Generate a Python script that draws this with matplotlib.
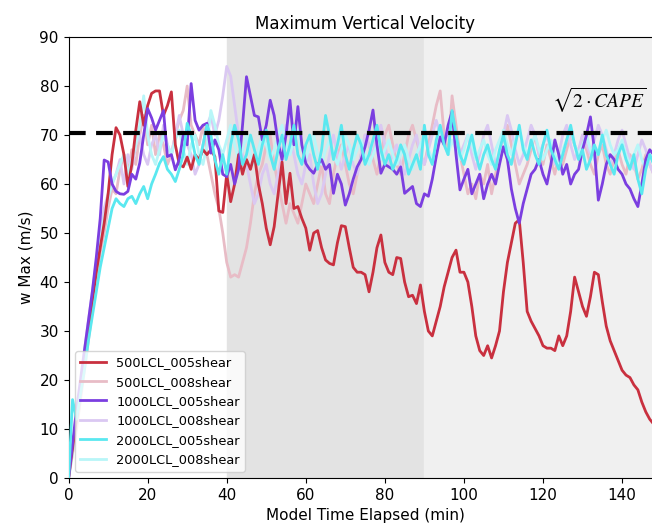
import numpy as np
import matplotlib
matplotlib.use("Agg")
import matplotlib.pyplot as plt

# model time (min), one output per minute
time_min = np.arange(0, 149)

w_500_005 = [
    0, 6, 12, 18, 24, 30, 36, 42, 47, 52,
    58, 66, 71.5, 70, 66, 59.5, 64, 71, 76.8, 72,
    76, 78.5, 79, 79, 74, 76, 78.8, 68, 64, 63.5,
    65.5, 63, 66, 65, 67, 66, 67, 65.6, 54.5, 54.2,
    62, 56.4, 60, 66, 62, 65, 63, 66, 60, 56,
    51, 47.6, 51.3, 58, 64.5, 56, 62.2, 55, 55.4, 53,
    51, 46.5, 50, 50.5, 47, 44.5, 43.8, 43.5, 48, 51.5,
    51.3, 47, 43, 42, 42, 41.5, 38, 42, 47, 49.6,
    44, 42, 41.5, 45, 44.8, 40, 37, 37.3, 35.6, 39.4,
    34, 30, 29, 32, 35, 39, 42, 45, 46.5, 42,
    42, 40, 35, 29, 26, 25, 27, 24.5, 27, 30,
    38, 44, 48, 52, 52.7, 44, 34, 32, 30.5, 29,
    27, 26.5, 26.5, 26, 29, 27, 29, 34, 41, 38,
    35, 33, 37, 42, 41.5, 36, 31, 28, 26, 24,
    22, 21, 20.5, 19, 18, 15.5, 13.5, 12, 11,
]
w_500_008 = [
    0, 5, 10, 16, 22, 28, 34, 40, 46, 50,
    55, 59, 58, 63, 66, 62, 67, 64, 70, 74,
    68, 72, 66, 70, 68, 64, 66, 70, 73, 75,
    80, 72, 70, 68, 72, 66, 62, 58, 55, 50,
    44, 41, 41.5, 41, 44, 47, 52, 58, 62, 64,
    68, 70, 64, 60, 56, 52, 56, 54, 52, 56,
    60, 58, 56, 60, 64, 58, 56, 62, 66, 68,
    64, 60, 58, 62, 66, 70, 68, 65, 62, 66,
    70, 72, 68, 64, 62, 66, 70, 72, 69, 66,
    64, 68, 72, 76, 79, 70, 66, 78, 72, 66,
    62, 58, 60, 57, 62, 60, 64, 58, 62, 66,
    70, 72, 68, 64, 60, 62, 64, 67, 70, 66,
    64, 68, 65, 62, 66, 64, 67, 70, 68, 66,
    70, 67, 64, 62, 66, 68, 64, 62, 65, 67,
    64, 62, 66, 64, 61, 63, 66, 64, 62,
]
w_1000_005 = [
    0, 7, 14, 20, 26, 32, 38, 45, 53, 64.9,
    64.5, 60, 58.5, 58, 57.9, 58.5, 62, 61, 64.3, 70,
    75.4, 73.5, 71, 73, 75, 65.6, 66, 62.9, 65, 70,
    68, 80.5, 73, 71, 72, 72.4, 66.3, 69, 67, 62,
    61.5, 64, 60, 63, 72, 81.9, 78, 74, 73.7, 69,
    72, 77.1, 74, 68.3, 65, 70, 77.1, 68, 75.8, 68,
    64.2, 63, 62.2, 64, 65, 63, 64, 58.1, 62, 60,
    55.7, 58, 61, 63.5, 65, 67.6, 71, 75.1, 68, 62.2,
    64, 63.5, 63, 62, 63.5, 58.1, 58.8, 59.5, 56, 55.4,
    58, 57.5, 61, 65.6, 69.6, 68, 72, 74.8, 66, 58.8,
    61, 63, 58, 60, 62, 57, 60, 62, 60, 64,
    67.6, 65, 59, 55, 52, 56, 59, 62, 63, 65,
    62, 60, 64, 69, 66, 62, 64, 60, 62, 63,
    67, 70, 73.7, 67, 56.7, 60, 64, 66, 65, 63,
    62, 60, 59, 57, 55.4, 60, 65, 67, 66,
]
w_1000_008 = [
    0, 6, 12, 19, 26, 32, 38, 44, 50, 55,
    58, 60, 62, 65, 60, 66, 63, 68, 70, 66,
    64, 68, 70, 66, 72, 68, 66, 70, 74, 70,
    68, 66, 62, 64, 68, 72, 74, 70, 73, 78,
    84, 82, 76, 70, 66, 64, 60, 56, 58, 62,
    64, 60, 58, 62, 66, 72, 70, 66, 62, 60,
    64, 66, 60, 56, 58, 62, 66, 70, 66, 63,
    66, 68, 64, 62, 66, 70, 68, 66, 70, 72,
    68, 64, 66, 68, 64, 62, 65, 68, 70, 66,
    64, 67, 70, 73, 70, 68, 71, 73, 70, 66,
    68, 70, 66, 63, 66, 70, 72, 68, 64, 66,
    70, 74, 71, 67, 64, 66, 69, 72, 70, 66,
    68, 70, 67, 64, 66, 70, 72, 68, 65, 67,
    70, 68, 66, 69, 72, 70, 67, 64, 66, 69,
    71, 68, 65, 63, 66, 69, 67, 64, 62,
]
w_2000_005 = [
    0, 16, 12, 17, 22, 28, 33, 38, 43, 47,
    51, 55, 57, 56, 55.4, 57, 57.5, 56, 58, 59.5,
    57, 60, 62, 64.2, 65.6, 63, 62, 60.5, 63, 66,
    72.4, 70, 66, 64, 68, 72, 70, 65, 62, 66,
    62, 68, 72, 69, 64, 66, 70, 67, 64, 68,
    71, 66, 63, 67, 70, 65, 68, 72, 66, 64,
    68, 70, 66, 63, 67, 74, 70, 65, 68, 72,
    66, 63, 67, 70, 68, 64, 66, 69, 72, 67,
    64, 66, 63, 65, 68, 66, 62, 64, 66, 63,
    72, 66, 64, 69, 72, 68, 66, 75, 70, 66,
    64, 67, 70, 66, 63, 66, 68, 65, 63, 67,
    70, 66, 64, 68, 72, 67, 65, 69, 66, 64,
    68, 71, 67, 65, 63, 66, 69, 72, 68, 65,
    67, 63, 65, 68, 66, 70, 66, 64, 62, 66,
    68, 65, 63, 66, 61, 58, 63, 66, 64,
]
w_2000_008 = [
    0, 5, 12, 18, 24, 30, 36, 42, 48, 53,
    57, 60, 62, 64, 66, 62, 65, 68, 72, 78,
    70, 66, 64, 67, 70, 68, 66, 69, 71, 67,
    64, 68, 70, 66, 64, 68, 75, 72, 68, 66,
    69, 72, 68, 65, 67, 70, 66, 64, 67, 70,
    68, 65, 67, 70, 72, 68, 66, 69, 71, 67,
    65, 68, 70, 66, 64, 67, 69, 66, 64, 67,
    70, 68, 65, 67, 69, 66, 64, 66, 68, 65,
    67, 69, 66, 64, 66, 68, 65, 63, 66, 68,
    70, 67, 65, 68, 71, 68, 66, 69, 67, 65,
    67, 70, 68, 65, 67, 69, 66, 64, 67, 69,
    71, 68, 66, 69, 71, 68, 66, 68, 70, 67,
    65, 67, 69, 66, 64, 67, 69, 71, 68, 66,
    68, 70, 67, 65, 67, 69, 71, 68, 66, 67,
    69, 66, 64, 66, 68, 65, 63, 66, 65,
]

cape_limit = 70.5
phase_edges = [40, 90, 150]

fig = plt.figure(figsize=(6.52, 5.29), dpi=100)
# axes run past the right edge of the figure, as in the reference crop
ax = fig.add_axes([0.1052, 0.0964, 0.9095, 0.8336])

ax.axvspan(phase_edges[0], phase_edges[1], color='#e3e3e3', zorder=0)
ax.axvspan(phase_edges[1], phase_edges[2], color='#f0f0f0', zorder=0)

ax.plot(time_min, w_500_005, color='#c9303f', lw=2, label='500LCL_005shear', zorder=3)
ax.plot(time_min, w_500_008, color='#e8bcc6', lw=2, label='500LCL_008shear', zorder=2)
ax.plot(time_min, w_1000_005, color='#7b3ee0', lw=2, label='1000LCL_005shear', zorder=3)
ax.plot(time_min, w_1000_008, color='#dac8f2', lw=2, label='1000LCL_008shear', zorder=2)
ax.plot(time_min, w_2000_005, color='#5ae8f0', lw=2, label='2000LCL_005shear', zorder=3)
ax.plot(time_min, w_2000_008, color='#b8f6f8', lw=2, label='2000LCL_008shear', zorder=2)

ax.axhline(cape_limit, color='black', lw=3, ls=(0, (4, 2.5)), zorder=4)
ax.text(122.3, 75.5, r'$\sqrt{2 \cdot CAPE}$', fontsize=14, zorder=5,
        math_fontfamily='stix')

ax.set_xlim(0, 150)
ax.set_ylim(0, 90)
ax.set_xticks(range(0, 141, 20))
ax.tick_params(labelsize=11)
ax.set_title('Maximum Vertical Velocity', fontsize=12)
ax.set_xlabel('Model Time Elapsed (min)', fontsize=11)
ax.set_ylabel('w Max (m/s)', fontsize=11)
ax.legend(loc='lower left', fontsize=9.3)

fig.savefig('out.png', dpi=100)
